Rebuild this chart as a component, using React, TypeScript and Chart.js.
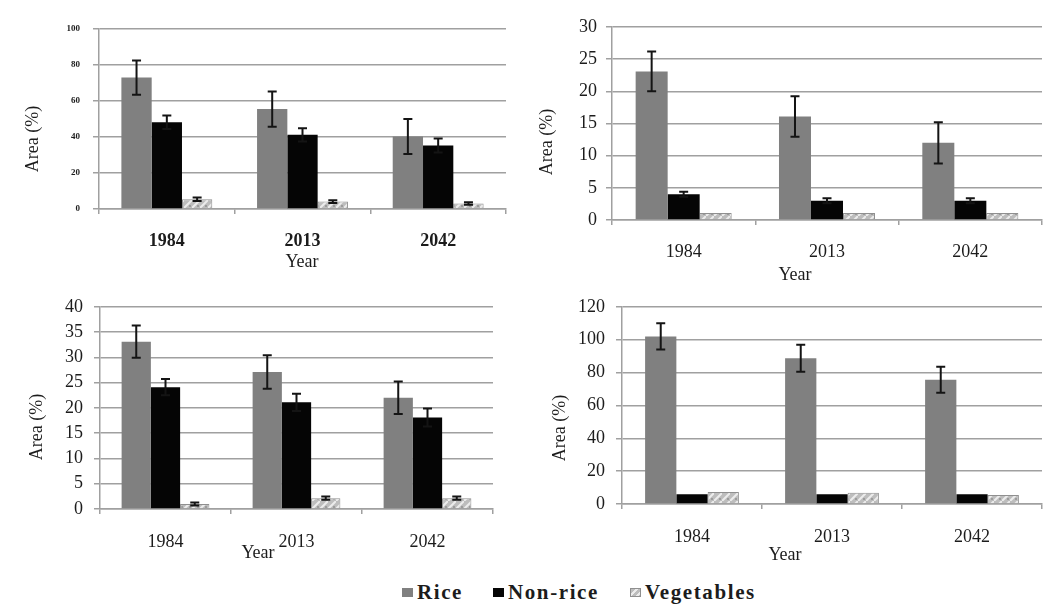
import React, { useEffect, useRef } from 'react';
import { Chart, registerables } from 'chart.js';

Chart.register(...registerables);

// ---- data ----
const years = ['1984', '2013', '2042'];
const seriesNames = ['Rice', 'Non-rice', 'Vegetables'];

// panel A (upper left)
const riceA = [73, 55.5, 40.3];
const riceErrA = [9.5, 9.8, 9.7];
const nonRiceA = [48.2, 41.2, 35.3];
const nonRiceErrA = [3.7, 3.7, 3.9];
const vegA = [5.4, 4.1, 3.0];
const vegErrA = [1.0, 0.8, 0.7];
const yMaxA = 100;
const yStepA = 20;

// panel B (upper right)
const riceB = [23.1, 16.1, 12];
const riceErrB = [3.1, 3.15, 3.2];
const nonRiceB = [4, 3, 3];
const nonRiceErrB = [0.4, 0.4, 0.4];
const vegB = [1.1, 1.1, 1.1];
const vegErrB = [0, 0, 0];
const yMaxB = 30;
const yStepB = 5;

// panel C (lower left)
const riceC = [33.1, 27.1, 22];
const riceErrC = [3.2, 3.3, 3.2];
const nonRiceC = [24.1, 21.1, 18.1];
const nonRiceErrC = [1.6, 1.7, 1.8];
const vegC = [1.0, 2.15, 2.15];
const vegErrC = [0.3, 0.3, 0.3];
const yMaxC = 40;
const yStepC = 5;

// panel D (lower right)
const riceD = [102, 88.7, 75.6];
const riceErrD = [8, 8.2, 7.9];
const nonRiceD = [5.9, 5.9, 5.9];
const nonRiceErrD = [0, 0, 0];
const vegD = [7.3, 6.9, 5.5];
const vegErrD = [0, 0, 0];
const yMaxD = 120;
const yStepD = 20;

const yTitle = 'Area (%)';
const xTitle = 'Year';

// ---- styling ----
const SERIF = '"Liberation Serif", "Times New Roman", Times, serif';
const GRID = '#a0a0a0';
const TEXT = '#1c1c1c';
const RICE = '#808080';
const NONRICE = '#050505';
const VEG_BORDER = '#8f8f8f';
const Y_AXIS_W = 60;
const X_AXIS_H = 50;

function makeVegPattern(): CanvasPattern | string {
  const c = document.createElement('canvas');
  c.width = 8;
  c.height = 8;
  const g = c.getContext('2d');
  if (!g) return '#c4c4c4';
  g.fillStyle = '#bdbdbd';
  g.fillRect(0, 0, 8, 8);
  g.strokeStyle = '#ececec';
  g.lineWidth = 2;
  g.beginPath();
  g.moveTo(-1, 9);
  g.lineTo(9, -1);
  g.stroke();
  g.fillStyle = '#9c9c9c';
  g.fillRect(5, 5, 2, 2);
  const p = g.createPattern(c, 'repeat');
  return p || '#c4c4c4';
}

// error bars drawn on top of each bar from dataset.errors
const errorBarPlugin = {
  id: 'errorBars',
  afterDatasetsDraw(chart: any) {
    const { ctx } = chart;
    const yScale = chart.scales.y;
    chart.data.datasets.forEach((ds: any, i: number) => {
      const errs: number[] | undefined = ds.errors;
      if (!errs) return;
      const meta = chart.getDatasetMeta(i);
      meta.data.forEach((bar: any, j: number) => {
        const e = errs[j];
        if (!e) return;
        const v = ds.data[j];
        const x = bar.x;
        const yTop = yScale.getPixelForValue(v + e);
        const yBot = yScale.getPixelForValue(v - e);
        const cap = 4.5;
        ctx.save();
        ctx.strokeStyle = '#141414';
        ctx.lineWidth = 2;
        ctx.beginPath();
        ctx.moveTo(x, yTop);
        ctx.lineTo(x, yBot);
        ctx.moveTo(x - cap, yTop);
        ctx.lineTo(x + cap, yTop);
        ctx.moveTo(x - cap, yBot);
        ctx.lineTo(x + cap, yBot);
        ctx.stroke();
        ctx.restore();
      });
    });
  },
};

// axis titles at fixed spots inside each panel's canvas
const axisTitlePlugin = {
  id: 'axisTitles',
  afterDraw(chart: any, _args: any, opts: any) {
    const { ctx } = chart;
    ctx.save();
    ctx.fillStyle = TEXT;
    ctx.font = `${opts.size}px ${SERIF}`;
    ctx.textAlign = 'center';
    ctx.textBaseline = 'middle';
    ctx.fillText(xTitle, opts.xTitleX, opts.xTitleY);
    ctx.translate(opts.yTitleX, opts.yTitleY);
    ctx.rotate(-Math.PI / 2);
    ctx.fillText(yTitle, 0, 0);
    ctx.restore();
  },
};

type PanelProps = {
  rice: number[];
  riceErr: number[];
  nonRice: number[];
  nonRiceErr: number[];
  veg: number[];
  vegErr: number[];
  yMax: number;
  yStep: number;
  left: number;
  top: number;
  width: number;
  height: number;
  plotL: number;
  plotR: number;
  plotT: number;
  plotB: number;
  yTickFont: { size: number; weight: string };
  xTickFont: { size: number; weight: string };
  yTickPad: number;
  xTickPad: number;
  yTitleX: number;
  yTitleY: number;
  xTitleX: number;
  xTitleY: number;
};

function Panel(p: PanelProps) {
  const ref = useRef<HTMLCanvasElement | null>(null);
  useEffect(() => {
    const canvas = ref.current;
    if (!canvas) return;
    const pad = {
      left: p.plotL - p.left - Y_AXIS_W,
      right: p.left + p.width - p.plotR,
      top: p.plotT - p.top,
      bottom: p.top + p.height - p.plotB - X_AXIS_H,
    };
    const chart = new Chart(canvas, {
      type: 'bar',
      data: {
        labels: years,
        datasets: [
          {
            label: seriesNames[0],
            data: p.rice,
            errors: p.riceErr,
            backgroundColor: RICE,
            borderWidth: 0,
          } as any,
          {
            label: seriesNames[1],
            data: p.nonRice,
            errors: p.nonRiceErr,
            backgroundColor: NONRICE,
            borderWidth: 0,
          } as any,
          {
            label: seriesNames[2],
            data: p.veg,
            errors: p.vegErr,
            backgroundColor: makeVegPattern(),
            borderColor: VEG_BORDER,
            borderWidth: 1,
          } as any,
        ],
      },
      options: {
        responsive: false,
        animation: false,
        layout: { padding: pad },
        datasets: { bar: { categoryPercentage: 0.67, barPercentage: 1 } },
        plugins: {
          legend: { display: false },
          tooltip: { enabled: false },
          axisTitles: {
            size: 18,
            xTitleX: p.xTitleX - p.left,
            xTitleY: p.xTitleY - p.top,
            yTitleX: p.yTitleX - p.left,
            yTitleY: p.yTitleY - p.top,
          },
        } as any,
        scales: {
          x: {
            grid: {
              display: true,
              drawOnChartArea: false,
              drawTicks: true,
              tickLength: 5,
              color: GRID,
              lineWidth: 1.5,
              offset: true,
            },
            border: { display: true, color: GRID, width: 1.5 },
            ticks: {
              color: TEXT,
              padding: p.xTickPad,
              font: { family: SERIF, size: p.xTickFont.size, weight: p.xTickFont.weight as any },
            },
            afterFit: (s: any) => {
              s.height = X_AXIS_H;
            },
          },
          y: {
            min: 0,
            max: p.yMax,
            ticks: {
              stepSize: p.yStep,
              color: TEXT,
              padding: p.yTickPad,
              font: { family: SERIF, size: p.yTickFont.size, weight: p.yTickFont.weight as any },
            },
            grid: { color: GRID, lineWidth: 1.5, tickLength: 6, drawTicks: true },
            border: { display: true, color: GRID, width: 1.5 },
            afterFit: (s: any) => {
              s.width = Y_AXIS_W;
            },
          },
        },
      },
      plugins: [errorBarPlugin, axisTitlePlugin],
    });
    return () => chart.destroy();
  }, []);
  return (
    <canvas
      ref={ref}
      width={p.width}
      height={p.height}
      style={{ position: 'absolute', left: p.left, top: p.top, width: p.width, height: p.height }}
    />
  );
}

function LegendItem({ x, label, swatch }: { x: number; label: string; swatch: React.CSSProperties }) {
  return (
    <div
      style={{
        position: 'absolute',
        left: x,
        top: 579,
        height: 26,
        display: 'flex',
        alignItems: 'center',
        gap: 4,
        fontFamily: SERIF,
        fontWeight: 'bold',
        fontSize: 21,
        letterSpacing: '1.6px',
        color: TEXT,
        whiteSpace: 'nowrap',
      }}
    >
      <span style={{ display: 'inline-block', width: 11, height: 9, ...swatch }} />
      <span>{label}</span>
    </div>
  );
}

export default function App() {
  const normal18 = { size: 18, weight: 'normal' };
  return (
    <div
      style={{
        position: 'absolute',
        left: 0,
        top: 0,
        width: 1044,
        height: 606,
        background: '#ffffff',
        overflow: 'hidden',
      }}
    >
      <Panel
        rice={riceA}
        riceErr={riceErrA}
        nonRice={nonRiceA}
        nonRiceErr={nonRiceErrA}
        veg={vegA}
        vegErr={vegErrA}
        yMax={yMaxA}
        yStep={yStepA}
        left={0}
        top={0}
        width={522}
        height={285}
        plotL={99}
        plotR={506}
        plotT={29}
        plotB={209}
        yTickFont={{ size: 9, weight: 'bold' }}
        xTickFont={{ size: 18, weight: 'bold' }}
        yTickPad={13}
        xTickPad={17}
        yTitleX={33}
        yTitleY={139}
        xTitleX={302}
        xTitleY={262}
      />
      <Panel
        rice={riceB}
        riceErr={riceErrB}
        nonRice={nonRiceB}
        nonRiceErr={nonRiceErrB}
        veg={vegB}
        vegErr={vegErrB}
        yMax={yMaxB}
        yStep={yStepB}
        left={522}
        top={0}
        width={522}
        height={285}
        plotL={612}
        plotR={1042}
        plotT={27}
        plotB={220}
        yTickFont={normal18}
        xTickFont={normal18}
        yTickPad={9}
        xTickPad={16}
        yTitleX={547}
        yTitleY={142}
        xTitleX={795}
        xTitleY={275}
      />
      <Panel
        rice={riceC}
        riceErr={riceErrC}
        nonRice={nonRiceC}
        nonRiceErr={nonRiceErrC}
        veg={vegC}
        vegErr={vegErrC}
        yMax={yMaxC}
        yStep={yStepC}
        left={0}
        top={285}
        width={522}
        height={290}
        plotL={100}
        plotR={493}
        plotT={305}
        plotB={509}
        yTickFont={normal18}
        xTickFont={normal18}
        yTickPad={11}
        xTickPad={17}
        yTitleX={37}
        yTitleY={427}
        xTitleX={258}
        xTitleY={553}
      />
      <Panel
        rice={riceD}
        riceErr={riceErrD}
        nonRice={nonRiceD}
        nonRiceErr={nonRiceErrD}
        veg={vegD}
        vegErr={vegErrD}
        yMax={yMaxD}
        yStep={yStepD}
        left={522}
        top={285}
        width={522}
        height={290}
        plotL={622}
        plotR={1042}
        plotT={306}
        plotB={504}
        yTickFont={normal18}
        xTickFont={normal18}
        yTickPad={11}
        xTickPad={17}
        yTitleX={560}
        yTitleY={428}
        xTitleX={785}
        xTitleY={555}
      />
      <LegendItem x={402} label={seriesNames[0]} swatch={{ background: RICE }} />
      <LegendItem x={493} label={seriesNames[1]} swatch={{ background: NONRICE }} />
      <LegendItem
        x={630}
        label={seriesNames[2]}
        swatch={{
          background: 'repeating-linear-gradient(135deg, #bdbdbd 0px, #bdbdbd 3px, #ececec 3px, #ececec 5px)',
          border: `1px solid ${VEG_BORDER}`,
          boxSizing: 'border-box',
        }}
      />
    </div>
  );
}
